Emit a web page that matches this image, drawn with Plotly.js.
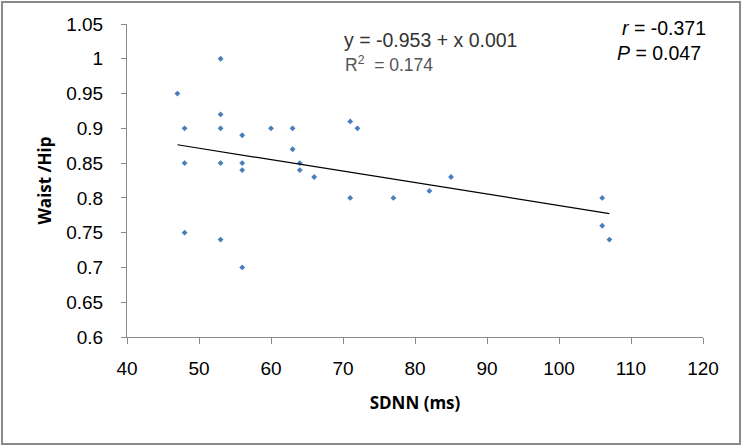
<!DOCTYPE html>
<html>
<head>
<meta charset="utf-8">
<script src="https://cdn.plot.ly/plotly-3.0.1.min.js"></script>
<style>
  html, body { margin: 0; padding: 0; background: #fff; }
  #wrap { position: relative; width: 742px; height: 446px; }
  #chart { width: 742px; height: 446px; }
  #frame { position: absolute; left: 1px; top: 1px; width: 740px; height: 444px;
           box-sizing: border-box; border: 2px solid #8a8a8a; pointer-events: none; }
</style>
</head>
<body>
<div id="wrap"><div id="chart"></div><div id="frame"></div></div>
<script>
// SDNN (ms)
const sdnn = [47, 48, 48, 48, 53, 53, 53, 53, 53, 56, 56, 56, 56, 60, 63, 63, 64, 64, 66, 71, 71, 72, 77, 82, 85, 106, 106, 107];
// Waist / Hip ratio
const waistHip = [0.95, 0.90, 0.85, 0.75, 1.00, 0.92, 0.90, 0.85, 0.74, 0.89, 0.85, 0.84, 0.70, 0.90, 0.90, 0.87, 0.85, 0.84, 0.83, 0.91, 0.80, 0.90, 0.80, 0.81, 0.83, 0.80, 0.76, 0.74];

const xTickVals = [40, 50, 60, 70, 80, 90, 100, 110, 120];
const xTickText = ['40', '50', '60', '70', '80', '90', '100', '110', '120'];
const yTickVals = [0.6, 0.65, 0.7, 0.75, 0.8, 0.85, 0.9, 0.95, 1.0, 1.05];
const yTickText = ['0.6', '0.65', '0.7', '0.75', '0.8', '0.85', '0.9', '0.95', '1', '1.05'];

// least-squares trend line over the data
const n = sdnn.length;
const mx = sdnn.reduce((a, b) => a + b, 0) / n;
const my = waistHip.reduce((a, b) => a + b, 0) / n;
let sxy = 0, sxx = 0;
for (let i = 0; i < n; i++) { sxy += (sdnn[i] - mx) * (waistHip[i] - my); sxx += (sdnn[i] - mx) ** 2; }
const slope = sxy / sxx;
const intercept = my - slope * mx;
const xMin = Math.min(...sdnn), xMax = Math.max(...sdnn);
const trendX = [xMin, xMax];
const trendY = trendX.map(v => intercept + slope * v);

const FONT = 'Liberation Sans, Arial, sans-serif';
const TITLEFONT = 'Open Sans, Liberation Sans, sans-serif';

const data = [
  {
    x: sdnn, y: waistHip, type: 'scatter', mode: 'markers',
    marker: { symbol: 'diamond', size: 4.5, color: '#4a7ebb' },
    hoverinfo: 'x+y'
  },
  {
    x: trendX, y: trendY, type: 'scatter', mode: 'lines',
    line: { color: '#000000', width: 1.2 },
    hoverinfo: 'skip'
  }
];

const layout = {
  width: 742, height: 446,
  margin: { l: 127, r: 39, t: 24, b: 109 },
  paper_bgcolor: '#ffffff', plot_bgcolor: '#ffffff',
  showlegend: false,
  font: { family: FONT, color: '#000000' },
  xaxis: {
    range: [40, 120], tickvals: xTickVals, ticktext: xTickText,
    showgrid: false, zeroline: false, showline: true, linecolor: '#8a8a8a', linewidth: 1,
    ticks: 'outside', ticklen: 6, tickcolor: '#8a8a8a', tickwidth: 1,
    ticklabelstandoff: 8,
    tickfont: { family: FONT, size: 19, color: '#000000' },
    title: { text: '<b>SDNN (ms)</b>', font: { family: TITLEFONT, size: 17, color: '#000000' }, standoff: 19 }
  },
  yaxis: {
    range: [0.6, 1.05], tickvals: yTickVals, ticktext: yTickText,
    showgrid: false, zeroline: false, showline: true, linecolor: '#8a8a8a', linewidth: 1,
    ticks: 'outside', ticklen: 5, tickcolor: '#8a8a8a', tickwidth: 1,
    ticklabelstandoff: 14,
    tickfont: { family: FONT, size: 19, color: '#000000' },
    title: { text: '<b>Waist /Hip</b>', font: { family: TITLEFONT, size: 17, color: '#000000' }, standoff: 10 }
  },
  annotations: [
    { xref: 'paper', yref: 'paper', x: 0.373, y: 0.949, xanchor: 'left', yanchor: 'middle',
      text: 'y = -0.953 + x 0.001', showarrow: false,
      font: { family: FONT, size: 19.5, color: '#333333' } },
    { xref: 'paper', yref: 'paper', x: 0.375, y: 0.872, xanchor: 'left', yanchor: 'middle',
      text: 'R<sup>2</sup>  = 0.174', showarrow: false,
      font: { family: FONT, size: 17.5, color: '#555555' } },
    { xref: 'paper', yref: 'paper', x: 1.009, y: 0.987, xanchor: 'right', yanchor: 'middle',
      text: '<i>r</i> = -0.371', showarrow: false,
      font: { family: FONT, size: 19.5, color: '#000000' } },
    { xref: 'paper', yref: 'paper', x: 1.0, y: 0.907, xanchor: 'right', yanchor: 'middle',
      text: '<i>P</i> = 0.047', showarrow: false,
      font: { family: FONT, size: 19.5, color: '#000000' } }
  ]
};

Plotly.newPlot('chart', data, layout, { displayModeBar: false, staticPlot: true });
</script>
</body>
</html>
